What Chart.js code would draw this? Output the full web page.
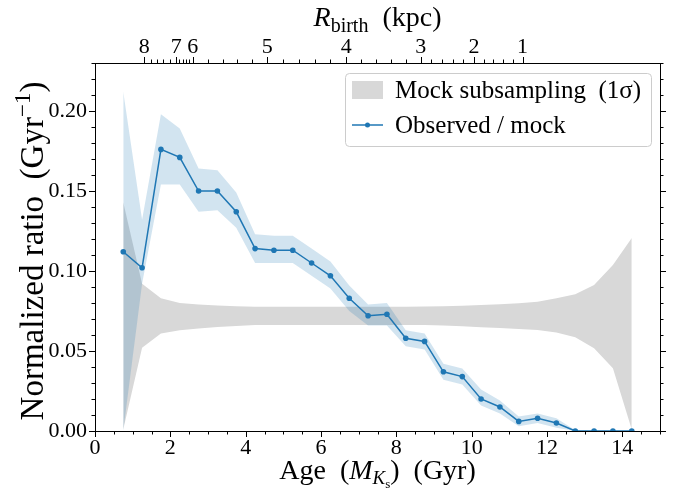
<!DOCTYPE html>
<html lang="en">
<head>
  <meta charset="UTF-8" />
  <title>Observed / mock ratio vs age</title>
  <script src="https://cdn.jsdelivr.net/npm/chart.js"></script>
  <style>
    html, body { margin: 0; padding: 0; background: #fff; }
    .chart-container { position: relative; width: 681px; height: 494px; }
  </style>
</head>
<body>
  <div class="chart-container">
    <canvas id="ratioChart"></canvas>
  </div>

  <script>
    // Age bin centres (Gyr)
    const ages = [0.75, 1.25, 1.75, 2.25, 2.75, 3.25, 3.75, 4.25, 4.75, 5.25,
                  5.75, 6.25, 6.75, 7.25, 7.75, 8.25, 8.75, 9.25, 9.75, 10.25,
                  10.75, 11.25, 11.75, 12.25, 12.75, 13.25, 13.75, 14.25];

    // Observed / mock normalized ratio and its 1-sigma band
    const ratio   = [0.112, 0.102, 0.176, 0.171, 0.150, 0.150, 0.137, 0.114, 0.113, 0.113,
                     0.105, 0.097, 0.083, 0.072, 0.073, 0.058, 0.056, 0.037, 0.034, 0.020,
                     0.015, 0.006, 0.008, 0.005, 0.000, 0.000, 0.000, 0.000];
    const ratioHi = [0.212, 0.132, 0.198, 0.189, 0.164, 0.163, 0.149, 0.123, 0.122, 0.122,
                     0.114, 0.106, 0.091, 0.079, 0.080, 0.063, 0.061, 0.042, 0.039, 0.026,
                     0.019, 0.009, 0.011, 0.008, 0.0005, 0.000, 0.000, 0.000];
    const ratioLo = [0.000, 0.092, 0.154, 0.154, 0.137, 0.138, 0.127, 0.105, 0.105, 0.105,
                     0.097, 0.089, 0.075, 0.066, 0.066, 0.053, 0.051, 0.032, 0.029, 0.016,
                     0.011, 0.003, 0.005, 0.002, 0.000, 0.000, 0.000, 0.000];

    // Mock subsampling 1-sigma envelope
    const mockHi = [0.143, 0.092, 0.083, 0.080, 0.079, 0.0785, 0.078, 0.0777, 0.0777, 0.0777,
                    0.0777, 0.0777, 0.0777, 0.0777, 0.0777, 0.0777, 0.0778, 0.078, 0.0783, 0.0787,
                    0.0792, 0.0798, 0.0808, 0.083, 0.0854, 0.0912, 0.1037, 0.1206];
    const mockLo = [0.001, 0.052, 0.061, 0.063, 0.064, 0.065, 0.0656, 0.0663, 0.0663, 0.0663,
                    0.0663, 0.0663, 0.0663, 0.0663, 0.0663, 0.0663, 0.0662, 0.066, 0.0655, 0.0648,
                    0.0643, 0.0638, 0.0631, 0.0615, 0.0586, 0.0517, 0.0392, 0.001];

    // Axis ticks
    const xTicks = [0, 2, 4, 6, 8, 10, 12, 14];
    const yTicks = [0.00, 0.05, 0.10, 0.15, 0.20];
    // birth radius (kpc) and the age where each radius sits on the top axis
    const rBirthLabels = [8, 7, 6, 5, 4, 3, 2, 1];
    const rBirthAges = [1.306, 2.155, 2.593, 4.573, 6.668, 8.646, 10.06, 11.35];

    const BLUE = '#1f77b4';
    const SERIF = '"Liberation Serif", "Times New Roman", serif';

    const pts = (vals) => ages.map((a, i) => ({ x: a, y: vals[i] }));

    // draw a row of text pieces (sub/superscripts, italics) centred on x
    function drawRuns(ctx, runs, x, y) {
      let total = 0;
      runs.forEach(r => {
        ctx.font = (r.italic ? 'italic ' : '') + r.size + 'px ' + SERIF;
        r.w = ctx.measureText(r.t).width;
        total += r.w;
      });
      let cx = x - total / 2;
      ctx.textAlign = 'left';
      ctx.textBaseline = 'alphabetic';
      runs.forEach(r => {
        ctx.font = (r.italic ? 'italic ' : '') + r.size + 'px ' + SERIF;
        ctx.fillText(r.t, cx, y + (r.dy || 0));
        cx += r.w;
      });
    }

    // frame, outward ticks on all four sides, tick labels, titles and legend
    const axesFrame = {
      id: 'axesFrame',
      afterDraw(chart) {
        const { ctx, chartArea: a, scales: { x, y } } = chart;
        const major = 6, minor = 3.5;
        ctx.save();
        ctx.strokeStyle = '#000';
        ctx.fillStyle = '#000';
        ctx.lineWidth = 1;

        const tick = (x1, y1, x2, y2) => {
          ctx.beginPath();
          ctx.moveTo(x1, y1);
          ctx.lineTo(x2, y2);
          ctx.stroke();
        };

        // bottom axis
        for (let v = 0; v <= 15.001; v += 0.5) {
          const px = Math.round(x.getPixelForValue(v)) + 0.5;
          const len = xTicks.includes(v) ? major : minor;
          tick(px, a.bottom, px, a.bottom + len);
        }
        ctx.font = '22px ' + SERIF;
        ctx.textAlign = 'center';
        ctx.textBaseline = 'alphabetic';
        xTicks.forEach(v => ctx.fillText(String(v), x.getPixelForValue(v), a.bottom + 23));

        // left and right axes
        for (let i = 0; i <= 23; i++) {
          const v = i / 100;
          const py = Math.round(y.getPixelForValue(v)) + 0.5;
          const len = i % 5 === 0 ? major : minor;
          tick(a.left, py, a.left - len, py);
          tick(a.right, py, a.right + len, py);
        }
        ctx.textAlign = 'right';
        ctx.textBaseline = 'middle';
        yTicks.forEach(v => ctx.fillText(v.toFixed(2), a.left - 8, y.getPixelForValue(v)));

        // top axis: birth radius, minor ticks every 0.2 kpc
        rBirthAges.forEach((age, i) => {
          const px = Math.round(x.getPixelForValue(age)) + 0.5;
          tick(px, a.top, px, a.top - major);
          if (i < rBirthAges.length - 1) {
            const a1 = rBirthAges[i + 1];
            for (let k = 1; k < 5; k++) {
              const m = age + (a1 - age) * k / 5;
              const mx = Math.round(x.getPixelForValue(m)) + 0.5;
              tick(mx, a.top, mx, a.top - minor);
            }
          }
        });
        ctx.textAlign = 'center';
        ctx.textBaseline = 'alphabetic';
        rBirthLabels.forEach((r, i) => ctx.fillText(String(r), x.getPixelForValue(rBirthAges[i]), a.top - 10));

        // frame
        ctx.strokeRect(Math.round(a.left) + 0.5, Math.round(a.top) + 0.5,
                       Math.round(a.right - a.left), Math.round(a.bottom - a.top));

        // axis titles
        const cx = (a.left + a.right) / 2;
        drawRuns(ctx, [
          { t: 'Age  (', size: 28 },
          { t: 'M', size: 28, italic: true },
          { t: 'K', size: 19, italic: true, dy: 5 },
          { t: 's', size: 13, dy: 9 },
          { t: ')  (Gyr)', size: 28 }
        ], cx, 479);

        drawRuns(ctx, [
          { t: 'R', size: 28, italic: true },
          { t: 'birth', size: 20, dy: 6 },
          { t: '  (kpc)', size: 28 }
        ], cx, 26);

        ctx.save();
        ctx.translate(43, 251);
        ctx.rotate(-Math.PI / 2);
        drawRuns(ctx, [
          { t: 'Normalized ratio  (Gyr', size: 33 },
          { t: '\u22121', size: 23, dy: -13 },
          { t: ')', size: 33 }
        ], 0, 0);
        ctx.restore();

        // legend box
        const lx = 345, ly = 73, lw = 306, lh = 73;
        ctx.beginPath();
        ctx.roundRect(lx + 0.5, ly + 0.5, lw, lh, 4);
        ctx.fillStyle = 'rgba(255,255,255,0.8)';
        ctx.fill();
        ctx.strokeStyle = '#cccccc';
        ctx.stroke();

        ctx.fillStyle = 'rgb(216,216,216)';
        ctx.fillRect(352, 81, 31, 18);
        ctx.strokeStyle = BLUE;
        ctx.lineWidth = 1.5;
        tick(352, 125, 383, 125);
        ctx.fillStyle = BLUE;
        ctx.beginPath();
        ctx.arc(367.5, 125, 2.5, 0, Math.PI * 2);
        ctx.fill();

        ctx.fillStyle = '#000';
        ctx.font = '25px ' + SERIF;
        ctx.textAlign = 'left';
        ctx.textBaseline = 'alphabetic';
        ctx.fillText('Mock subsampling  (1\u03c3)', 395, 98);
        ctx.fillText('Observed / mock', 395, 133);
        ctx.restore();
      }
    };

    new Chart(document.getElementById('ratioChart'), {
      type: 'line',
      data: {
        datasets: [
          { label: 'mockHi', data: pts(mockHi), fill: '+1', backgroundColor: 'rgb(216,216,216)',
            borderColor: 'transparent', borderWidth: 0, pointRadius: 0, order: 4 },
          { label: 'mockLo', data: pts(mockLo), fill: false,
            borderColor: 'transparent', borderWidth: 0, pointRadius: 0, order: 4 },
          { label: 'ratioHi', data: pts(ratioHi), fill: '+1', backgroundColor: 'rgba(31,119,180,0.2)',
            borderColor: 'transparent', borderWidth: 0, pointRadius: 0, order: 2 },
          { label: 'ratioLo', data: pts(ratioLo), fill: false,
            borderColor: 'transparent', borderWidth: 0, pointRadius: 0, order: 2 },
          { label: 'Observed / mock', data: pts(ratio), fill: false,
            borderColor: BLUE, borderWidth: 1.5, backgroundColor: BLUE,
            pointRadius: 2.8, pointBorderWidth: 0, pointBackgroundColor: BLUE, order: 1 }
        ]
      },
      options: {
        responsive: true,
        maintainAspectRatio: false,
        animation: false,
        layout: { padding: { left: 95, right: 21, top: 63, bottom: 63 } },
        elements: { line: { tension: 0 } },
        scales: {
          x: { type: 'linear', min: 0, max: 15, display: false },
          y: { type: 'linear', min: 0, max: 0.23, display: false }
        },
        plugins: {
          legend: { display: false },
          tooltip: { enabled: false }
        }
      },
      plugins: [axesFrame]
    });
  </script>
</body>
</html>
